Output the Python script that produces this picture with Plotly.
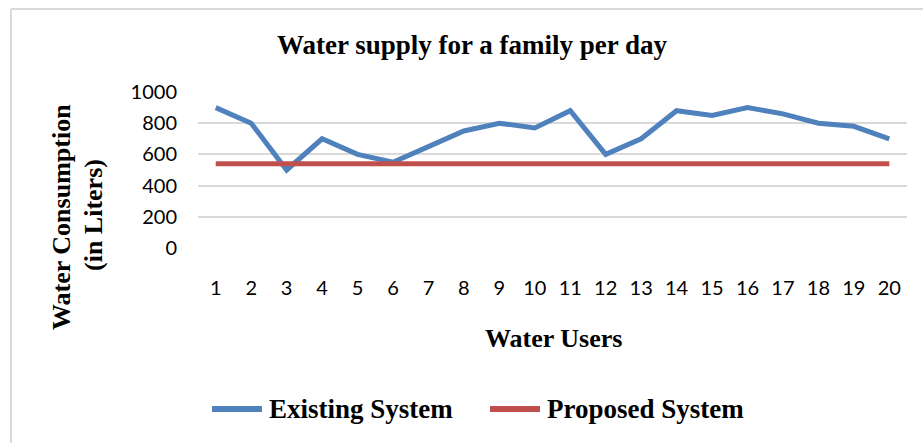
import plotly.graph_objects as go

users = list(range(1, 21))
existing = [900, 800, 500, 700, 600, 550, 650, 750, 800, 770,
            880, 600, 700, 880, 850, 900, 860, 800, 780, 700]
proposed = [540] * 20
y_ticks = [0, 200, 400, 600, 800, 1000]
series_names = ["Existing System", "Proposed System"]
series_colors = ["#4f81bd", "#c0504d"]

W, H = 923, 443
L, R, T, B = 198, 16, 92, 195
pw, ph = W - L - R, H - T - B

def px(x):
    return (x - L) / pw

def py(y):
    return (H - B - y) / ph

serif = "Liberation Serif"
fig = go.Figure()
for name, vals, col in zip(series_names, [existing, proposed], series_colors):
    fig.add_trace(go.Scatter(x=users, y=vals, mode="lines", name=name,
                             line=dict(color=col, width=5), showlegend=False))

fig.update_layout(
    width=W, height=H,
    margin=dict(l=L, r=R, t=T, b=B),
    paper_bgcolor="white", plot_bgcolor="white",
    showlegend=False,
    xaxis=dict(range=[0.5, 20.5], tickmode="array", tickvals=users,
               ticktext=[str(u) for u in users], showgrid=False, zeroline=False,
               showline=False, ticks="", ticklabelstandoff=26,
               tickfont=dict(family="Lato", size=20, color="black")),
    yaxis=dict(range=[0, 1000], tickmode="array", tickvals=y_ticks,
               showgrid=True, gridcolor="#d9d9d9", gridwidth=1.5, zeroline=False,
               showline=False, ticks="", ticklabelstandoff=20,
               tickfont=dict(family="Lato", size=20, color="black")),
)

annots = [
    dict(text="Water supply for a family per day", x=px(472), y=py(45), size=27, angle=0),
    dict(text="Water Users", x=px(553), y=py(338), size=26, angle=0),
    dict(text="Water Consumption", x=px(61), y=py(217), size=26, angle=-90),
    dict(text="(in Liters)", x=px(93), y=py(215), size=26, angle=-90),
]
for a in annots:
    fig.add_annotation(text=a["text"], x=a["x"], y=a["y"], xref="paper", yref="paper",
                       showarrow=False, textangle=a["angle"], xanchor="center", yanchor="middle",
                       font=dict(family=serif, size=a["size"], color="black", weight="bold"))

# legend (manual)
leg_y = 409
for name, col, x0 in zip(series_names, series_colors, [212, 490]):
    fig.add_shape(type="line", xref="paper", yref="paper", x0=px(x0), x1=px(x0 + 50),
                  y0=py(leg_y), y1=py(leg_y), line=dict(color=col, width=6))
    fig.add_annotation(text=name, x=px(x0 + 55), y=py(leg_y), xref="paper", yref="paper",
                       showarrow=False, xanchor="left", yanchor="middle",
                       font=dict(family=serif, size=27, color="black", weight="bold"))

fig.add_shape(type="line", xref="paper", yref="paper", x0=px(11), x1=px(923), y0=py(9), y1=py(9),
              line=dict(color="#d9d9d9", width=2))
fig.add_shape(type="line", xref="paper", yref="paper", x0=px(11), x1=px(11), y0=py(9), y1=py(443),
              line=dict(color="#d9d9d9", width=2))

fig.write_html("out.html", config={"displayModeBar": False},
               post_script="document.body.style.margin='0';document.body.style.overflow='hidden';")
